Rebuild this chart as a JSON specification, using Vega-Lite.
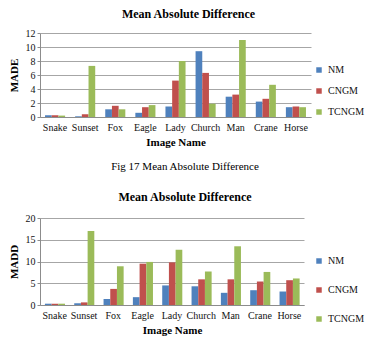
{
  "$schema": "https://vega.github.io/schema/vega-lite/v6.json",
  "background": "white",
  "padding": {"left": 8, "top": 8, "right": 5, "bottom": 5},
  "spacing": 14,
  "config": {
    "font": "Liberation Serif",
    "view": {"stroke": null},
    "axis": {
      "labelFont": "Liberation Serif", "labelFontSize": 10, "labelColor": "#111",
      "titleFont": "Liberation Serif", "titleFontSize": 11, "titleFontWeight": "bold", "titleColor": "#000",
      "gridColor": "#a6a6a6", "domainColor": "#8c8c8c", "tickColor": "#8c8c8c"
    },
    "legend": {"labelFont": "Liberation Serif", "labelFontSize": 10, "labelColor": "#111", "symbolType": "square", "symbolSize": 30, "symbolStrokeWidth": 0},
    "title": {"font": "Liberation Serif", "color": "#000"}
  },
  "datasets": {
    "made": [
      {"img": "Snake", "s": "NM", "v": 0.25}, {"img": "Snake", "s": "CNGM", "v": 0.25}, {"img": "Snake", "s": "TCNGM", "v": 0.2},
      {"img": "Sunset", "s": "NM", "v": 0.1}, {"img": "Sunset", "s": "CNGM", "v": 0.4}, {"img": "Sunset", "s": "TCNGM", "v": 7.3},
      {"img": "Fox", "s": "NM", "v": 1.1}, {"img": "Fox", "s": "CNGM", "v": 1.6}, {"img": "Fox", "s": "TCNGM", "v": 1.1},
      {"img": "Eagle", "s": "NM", "v": 0.6}, {"img": "Eagle", "s": "CNGM", "v": 1.4}, {"img": "Eagle", "s": "TCNGM", "v": 1.7},
      {"img": "Lady", "s": "NM", "v": 1.5}, {"img": "Lady", "s": "CNGM", "v": 5.2}, {"img": "Lady", "s": "TCNGM", "v": 8.0},
      {"img": "Church", "s": "NM", "v": 9.4}, {"img": "Church", "s": "CNGM", "v": 6.3}, {"img": "Church", "s": "TCNGM", "v": 1.9},
      {"img": "Man", "s": "NM", "v": 2.9}, {"img": "Man", "s": "CNGM", "v": 3.2}, {"img": "Man", "s": "TCNGM", "v": 11.0},
      {"img": "Crane", "s": "NM", "v": 2.2}, {"img": "Crane", "s": "CNGM", "v": 2.6}, {"img": "Crane", "s": "TCNGM", "v": 4.6},
      {"img": "Horse", "s": "NM", "v": 1.4}, {"img": "Horse", "s": "CNGM", "v": 1.5}, {"img": "Horse", "s": "TCNGM", "v": 1.4}
    ],
    "madd": [
      {"img": "Snake", "s": "NM", "v": 0.3}, {"img": "Snake", "s": "CNGM", "v": 0.3}, {"img": "Snake", "s": "TCNGM", "v": 0.3},
      {"img": "Sunset", "s": "NM", "v": 0.4}, {"img": "Sunset", "s": "CNGM", "v": 0.6}, {"img": "Sunset", "s": "TCNGM", "v": 17.0},
      {"img": "Fox", "s": "NM", "v": 1.4}, {"img": "Fox", "s": "CNGM", "v": 3.7}, {"img": "Fox", "s": "TCNGM", "v": 8.9},
      {"img": "Eagle", "s": "NM", "v": 1.8}, {"img": "Eagle", "s": "CNGM", "v": 9.5}, {"img": "Eagle", "s": "TCNGM", "v": 9.9},
      {"img": "Lady", "s": "NM", "v": 4.5}, {"img": "Lady", "s": "CNGM", "v": 9.8}, {"img": "Lady", "s": "TCNGM", "v": 12.7},
      {"img": "Church", "s": "NM", "v": 4.3}, {"img": "Church", "s": "CNGM", "v": 5.9}, {"img": "Church", "s": "TCNGM", "v": 7.7},
      {"img": "Man", "s": "NM", "v": 2.8}, {"img": "Man", "s": "CNGM", "v": 5.9}, {"img": "Man", "s": "TCNGM", "v": 13.5},
      {"img": "Crane", "s": "NM", "v": 3.4}, {"img": "Crane", "s": "CNGM", "v": 5.4}, {"img": "Crane", "s": "TCNGM", "v": 7.6},
      {"img": "Horse", "s": "NM", "v": 3.1}, {"img": "Horse", "s": "CNGM", "v": 5.7}, {"img": "Horse", "s": "TCNGM", "v": 6.1}
    ]
  },
  "vconcat": [
    {
      "title": {"text": "Mean Absolute Difference", "fontSize": 12, "fontWeight": "bold", "dx": 13, "offset": 7},
      "width": 271, "height": 84,
      "data": {"name": "made"},
      "mark": {"type": "bar"},
      "encoding": {
        "x": {"field": "img", "type": "nominal", "sort": ["Snake", "Sunset", "Fox", "Eagle", "Lady", "Church", "Man", "Crane", "Horse"],
              "scale": {"paddingInner": 0.333, "paddingOuter": 0.167},
              "axis": {"title": "Image Name", "labelAngle": 0, "ticks": false, "labelPadding": 5, "titlePadding": 4}},
        "xOffset": {"field": "s", "sort": ["NM", "CNGM", "TCNGM"], "scale": {"paddingInner": 0, "paddingOuter": 0}},
        "y": {"field": "v", "type": "quantitative", "scale": {"domain": [0, 12]},
              "axis": {"title": "MADE", "values": [0, 2, 4, 6, 8, 10, 12], "tickSize": 3, "labelPadding": 2, "titlePadding": 6}},
        "color": {"field": "s", "type": "nominal",
                  "scale": {"domain": ["NM", "CNGM", "TCNGM"], "range": ["#4F81BD", "#C0504D", "#9BBB59"]},
                  "legend": {"title": null, "orient": "none", "legendX": 274, "legendY": 32, "rowPadding": 11}}
      }
    },
    {
      "title": {"text": "Fig 17 Mean Absolute Difference", "fontSize": 11, "fontWeight": "normal",
                "subtitle": "Mean Absolute Difference", "subtitleFont": "Liberation Serif", "subtitleFontSize": 12, "subtitleFontWeight": "bold", "subtitleColor": "#000", "subtitlePadding": 20, "dx": 13, "offset": 10},
      "width": 264, "height": 87,
      "data": {"name": "madd"},
      "mark": {"type": "bar"},
      "encoding": {
        "x": {"field": "img", "type": "nominal", "sort": ["Snake", "Sunset", "Fox", "Eagle", "Lady", "Church", "Man", "Crane", "Horse"],
              "scale": {"paddingInner": 0.333, "paddingOuter": 0.167},
              "axis": {"title": "Image Name", "labelAngle": 0, "ticks": false, "labelPadding": 5, "titlePadding": 4}},
        "xOffset": {"field": "s", "sort": ["NM", "CNGM", "TCNGM"], "scale": {"paddingInner": 0, "paddingOuter": 0}},
        "y": {"field": "v", "type": "quantitative", "scale": {"domain": [0, 20]},
              "axis": {"title": "MADD", "values": [0, 5, 10, 15, 20], "tickSize": 3, "labelPadding": 2, "titlePadding": 6}},
        "color": {"field": "s", "type": "nominal",
                  "scale": {"domain": ["NM", "CNGM", "TCNGM"], "range": ["#4F81BD", "#C0504D", "#9BBB59"]},
                  "legend": {"title": null, "orient": "none", "legendX": 274, "legendY": 38, "rowPadding": 19}}
      }
    }
  ],
  "resolve": {"scale": {"color": "independent"}, "legend": {"color": "independent"}}
}
